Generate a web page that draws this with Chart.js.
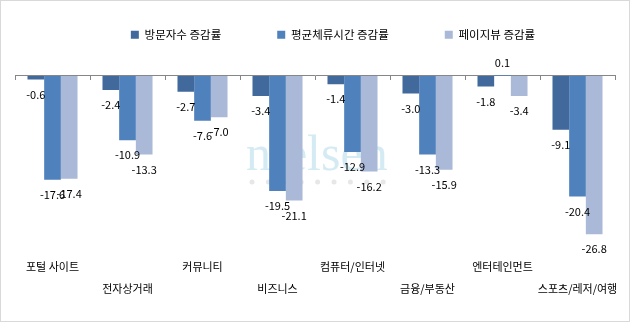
<!DOCTYPE html>
<html>
<head>
<meta charset="utf-8">
<script src="https://cdn.jsdelivr.net/npm/chart.js@4"></script>
<style>
  html, body { margin: 0; padding: 0; background: #fff; }
  #wrap { width: 630px; height: 322px; }
</style>
</head>
<body>
<div id="wrap"><canvas id="myChart" width="630" height="322"></canvas></div>
<script>
const categories = ['포털 사이트', '전자상거래', '커뮤니티', '비즈니스', '컴퓨터/인터넷', '금융/부동산', '엔터테인먼트', '스포츠/레저/여행'];
const visitors = [-0.6, -2.4, -2.7, -3.4, -1.4, -3.0, -1.8, -9.1];
const stayTime = [-17.6, -10.9, -7.6, -19.5, -12.9, -13.3, 0.1, -20.4];
const pageViews = [-17.4, -13.3, -7.0, -21.1, -16.2, -15.9, -3.4, -26.8];

const FONT = '"Noto Sans CJK KR", "Noto Sans", sans-serif';

// data labels under / over each bar
const barLabels = {
  id: 'barLabels',
  afterDatasetsDraw(chart) {
    const ctx = chart.ctx;
    ctx.save();
    ctx.font = '11px ' + FONT;
    ctx.fillStyle = '#000';
    ctx.textAlign = 'center';
    ctx.textBaseline = 'middle';
    chart.data.datasets.forEach((ds, di) => {
      chart.getDatasetMeta(di).data.forEach((bar, i) => {
        const v = ds.data[i];
        const y = v < 0 ? bar.y + 15 : bar.y - 12;
        ctx.fillText(v.toFixed(1), bar.x, y);
      });
    });
    ctx.restore();
  }
};

// faint watermark + frame, legend nudged a bit right like the original
const decor = {
  id: 'decor',
  afterLayout(chart) {
    chart.legend.left += 18;
    chart.legend.right += 18;
  },
  beforeDatasetsDraw(chart) {
    const ctx = chart.ctx;
    ctx.save();
    ctx.font = '50px "Liberation Serif", "DejaVu Serif", serif';
    ctx.fillStyle = 'rgba(195, 226, 238, 0.7)';
    ctx.textBaseline = 'alphabetic';
    ctx.fillText('nielsen', 246, 170);
    ctx.fillStyle = 'rgba(215, 215, 215, 0.6)';
    for (let k = 0; k < 9; k++) {
      ctx.beginPath();
      ctx.arc(252 + k * 16.4, 182, 2.5, 0, Math.PI * 2);
      ctx.fill();
    }
    ctx.restore();
  },
  afterDraw(chart) {
    const ctx = chart.ctx;
    ctx.save();
    ctx.strokeStyle = '#d9d9d9';
    ctx.lineWidth = 1;
    ctx.strokeRect(0.5, 0.5, chart.width - 1, chart.height - 1);
    ctx.restore();
  }
};

new Chart(document.getElementById('myChart'), {
  type: 'bar',
  data: {
    labels: categories,
    datasets: [
      { label: '방문자수 증감률', data: visitors, backgroundColor: '#41699b' },
      { label: '평균체류시간 증감률', data: stayTime, backgroundColor: '#4f81bd' },
      { label: '페이지뷰 증감률', data: pageViews, backgroundColor: '#aab9d8' },
    ],
  },
  options: {
    responsive: false,
    animation: false,
    categoryPercentage: 0.667,
    barPercentage: 1.0,
    layout: { padding: { top: -27, left: 15, right: 15, bottom: 20 } },
    plugins: {
      tooltip: { enabled: false },
      legend: {
        position: 'top',
        labels: {
          boxWidth: 8,
          boxHeight: 8,
          padding: 56,
          color: '#000',
          font: { family: FONT, size: 11.5 },
        },
      },
    },
    scales: {
      x: {
        position: 'bottom',
        grid: { display: false },
        border: { display: false },
        ticks: {
          autoSkip: false,
          maxRotation: 0,
          padding: 2,
          color: '#000',
          font: { family: FONT, size: 11, lineHeight: 2 },
          callback: (v, i) => (i % 2 ? ['', categories[i]] : [categories[i], '']),
        },
      },
      x0: {
        type: 'category',
        position: { y: 0 },
        offset: true,
        grid: { offset: true, drawOnChartArea: false, tickLength: 4, color: '#868686' },
        border: { color: '#868686' },
        ticks: { display: false },
      },
      y: {
        display: false,
        min: -28.8,
        max: 4.3,
      },
    },
  },
  plugins: [decor, barLabels],
});
</script>
</body>
</html>
